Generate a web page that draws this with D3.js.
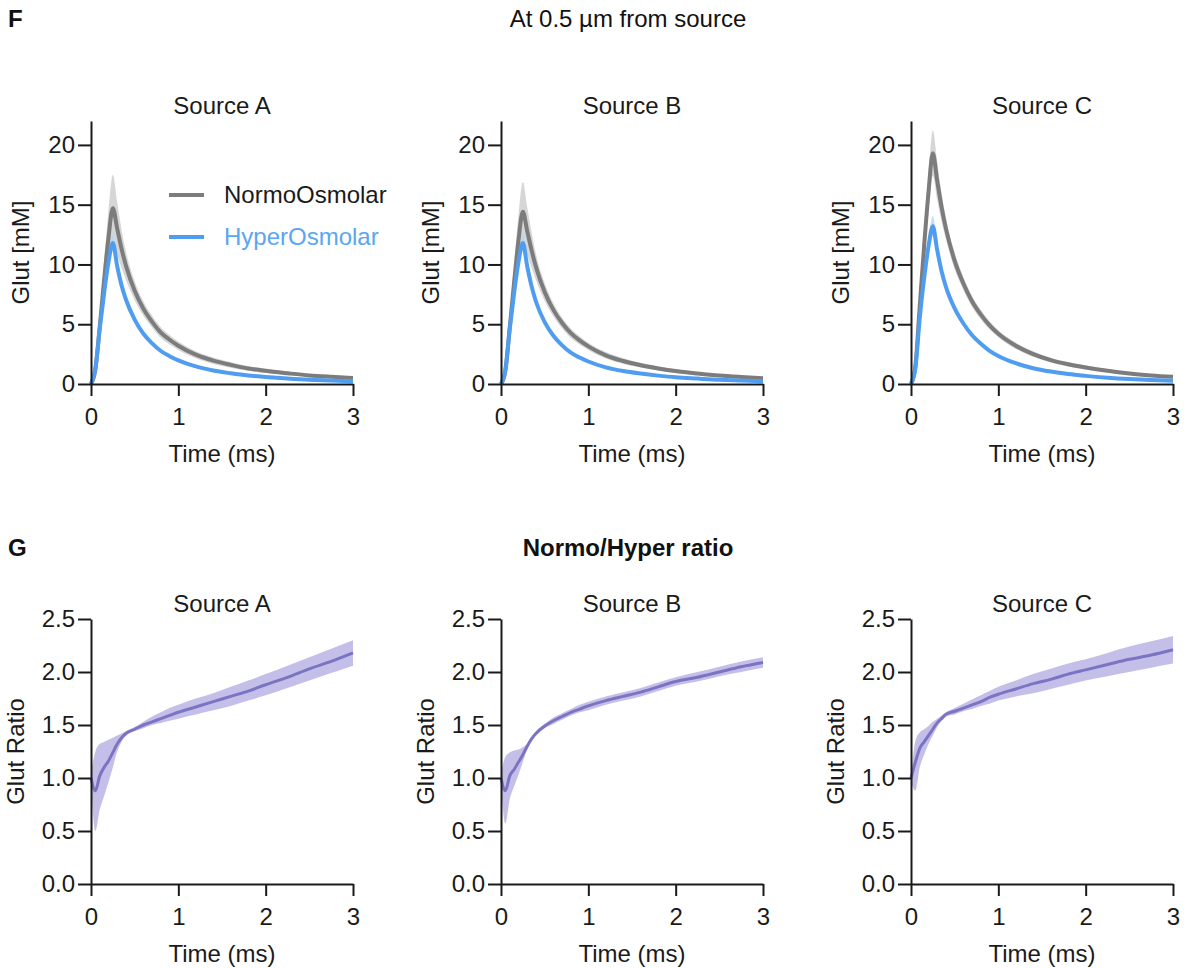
<!DOCTYPE html>
<html>
<head>
<meta charset="utf-8">
<script src="https://cdn.jsdelivr.net/npm/d3@7"></script>
<style>
  html, body { margin: 0; padding: 0; background: #fff; }
  svg { display: block; font-family: "Liberation Sans", Arial, Helvetica, sans-serif; }
  .axis path, .axis line { stroke: #1a1a1a; stroke-width: 2px; }
  .axis text { fill: #1a1a1a; font-size: 24px; }
</style>
</head>
<body>
<script>
// ---- data ----------------------------------------------------------------
const sources = ["Source A", "Source B", "Source C"];
const timeMs = [0, 0.05, 0.1, 0.15, 0.2, 0.25, 0.3, 0.35, 0.4, 0.5, 0.6, 0.7, 0.8, 0.9,
                1.0, 1.2, 1.4, 1.6, 1.8, 2.0, 2.25, 2.5, 2.75, 3.0];
const xTicks = [0, 1, 2, 3];
const glutTicks = [0, 5, 10, 15, 20];
const ratioTicks = [0, 0.5, 1.0, 1.5, 2.0, 2.5];
const seriesNames = ["NormoOsmolar", "HyperOsmolar"];

// Glutamate concentration (mM), mean and SD
const normoA = [0, 1.2, 4.8, 8.7, 12.2, 14.7, 13.0, 11.3, 9.9, 7.8, 6.3, 5.2, 4.3, 3.7,
                3.2, 2.45, 1.95, 1.6, 1.3, 1.1, 0.9, 0.72, 0.6, 0.5];
const hyperA = [0, 1.3, 4.6, 7.6, 10.2, 11.8, 9.85, 8.25, 7.07, 5.38, 4.2, 3.4, 2.76, 2.33,
                1.98, 1.47, 1.13, 0.9, 0.71, 0.585, 0.46, 0.355, 0.285, 0.23];
const normoSdA = [0, 0.3, 1.0, 1.7, 2.3, 2.8, 2.2, 1.6, 1.2, 0.8, 0.6, 0.5, 0.45, 0.4,
                  0.35, 0.3, 0.27, 0.24, 0.2, 0.18, 0.15, 0.12, 0.1, 0.08];
const hyperSdA = [0, 0.15, 0.3, 0.45, 0.6, 0.7, 0.5, 0.35, 0.25, 0.18, 0.14, 0.12, 0.1, 0.09,
                  0.08, 0.07, 0.06, 0.05, 0.05, 0.04, 0.04, 0.03, 0.03, 0.03];

const normoB = [0, 1.1, 4.7, 8.5, 12.0, 14.4, 12.8, 11.2, 9.8, 7.7, 6.2, 5.1, 4.25, 3.65,
                3.15, 2.4, 1.92, 1.57, 1.3, 1.08, 0.88, 0.71, 0.59, 0.49];
const hyperB = [0, 1.2, 4.6, 7.6, 10.2, 11.8, 9.85, 8.18, 6.9, 5.17, 4.03, 3.23, 2.62, 2.21,
                1.88, 1.39, 1.08, 0.87, 0.7, 0.56, 0.45, 0.35, 0.29, 0.23];
const normoSdB = [0, 0.3, 0.9, 1.5, 2.1, 2.5, 2.0, 1.5, 1.1, 0.75, 0.55, 0.45, 0.4, 0.35,
                  0.3, 0.27, 0.24, 0.2, 0.18, 0.16, 0.13, 0.11, 0.09, 0.07];
const hyperSdB = [0, 0.15, 0.3, 0.45, 0.6, 0.7, 0.5, 0.35, 0.25, 0.18, 0.14, 0.12, 0.1, 0.09,
                  0.08, 0.07, 0.06, 0.05, 0.05, 0.04, 0.04, 0.03, 0.03, 0.03];

const normoC = [0, 1.5, 6.5, 11.5, 16.0, 19.3, 17.0, 14.8, 13.0, 10.3, 8.4, 6.9, 5.8, 4.9,
                4.2, 3.2, 2.5, 2.0, 1.65, 1.38, 1.1, 0.88, 0.72, 0.6];
const hyperC = [0, 1.3, 5.5, 8.8, 11.5, 13.2, 11.2, 9.43, 8.13, 6.32, 5.06, 4.08, 3.37, 2.78,
                2.35, 1.74, 1.32, 1.04, 0.83, 0.68, 0.53, 0.415, 0.33, 0.27];
const normoSdC = [0, 0.3, 0.8, 1.2, 1.6, 1.9, 1.6, 1.2, 0.9, 0.7, 0.55, 0.45, 0.4, 0.35,
                  0.3, 0.27, 0.24, 0.2, 0.18, 0.16, 0.13, 0.11, 0.09, 0.07];
const hyperSdC = [0, 0.15, 0.35, 0.5, 0.7, 0.85, 0.6, 0.4, 0.3, 0.2, 0.15, 0.12, 0.1, 0.09,
                  0.08, 0.07, 0.06, 0.05, 0.05, 0.04, 0.04, 0.03, 0.03, 0.03];

// Normo/Hyper ratio, mean with lower and upper bounds
const ratioA   = [1.0, 0.88, 1.02, 1.1, 1.16, 1.24, 1.32, 1.38, 1.42, 1.46, 1.5, 1.53, 1.56, 1.59,
                  1.62, 1.67, 1.72, 1.77, 1.82, 1.88, 1.95, 2.03, 2.1, 2.18];
const ratioLoA = [0.95, 0.5, 0.7, 0.83, 0.96, 1.1, 1.25, 1.34, 1.4, 1.44, 1.47, 1.5, 1.52, 1.54,
                  1.56, 1.6, 1.64, 1.68, 1.73, 1.78, 1.85, 1.92, 1.99, 2.06];
const ratioHiA = [1.05, 1.25, 1.32, 1.34, 1.36, 1.38, 1.4, 1.42, 1.44, 1.48, 1.53, 1.58, 1.62, 1.66,
                  1.69, 1.75, 1.8, 1.86, 1.92, 1.98, 2.06, 2.14, 2.22, 2.3];

const ratioB   = [1.0, 0.88, 1.02, 1.08, 1.15, 1.22, 1.3, 1.37, 1.42, 1.49, 1.54, 1.58, 1.62, 1.65,
                  1.68, 1.73, 1.77, 1.81, 1.86, 1.91, 1.95, 2.0, 2.05, 2.09];
const ratioLoB = [0.95, 0.57, 0.8, 0.92, 1.03, 1.15, 1.27, 1.35, 1.4, 1.47, 1.51, 1.55, 1.59, 1.62,
                  1.64, 1.69, 1.73, 1.77, 1.82, 1.87, 1.91, 1.96, 2.0, 2.04];
const ratioHiB = [1.05, 1.2, 1.24, 1.26, 1.27, 1.29, 1.32, 1.38, 1.44, 1.51, 1.57, 1.61, 1.65, 1.69,
                  1.72, 1.77, 1.81, 1.85, 1.9, 1.95, 2.0, 2.05, 2.1, 2.14];

const ratioC   = [1.0, 1.15, 1.28, 1.34, 1.4, 1.46, 1.52, 1.56, 1.6, 1.63, 1.66, 1.69, 1.72, 1.76,
                  1.79, 1.84, 1.89, 1.93, 1.98, 2.02, 2.07, 2.12, 2.16, 2.21];
const ratioLoC = [0.97, 0.88, 1.1, 1.22, 1.32, 1.4, 1.48, 1.54, 1.58, 1.6, 1.63, 1.65, 1.68, 1.7,
                  1.73, 1.77, 1.8, 1.84, 1.88, 1.92, 1.96, 2.0, 2.04, 2.08];
const ratioHiC = [1.03, 1.35, 1.43, 1.46, 1.49, 1.53, 1.56, 1.59, 1.62, 1.66, 1.7, 1.74, 1.78, 1.82,
                  1.86, 1.92, 1.98, 2.03, 2.08, 2.12, 2.18, 2.24, 2.29, 2.34];

const glutPanels = [
  { normo: normoA, normoSd: normoSdA, hyper: hyperA, hyperSd: hyperSdA },
  { normo: normoB, normoSd: normoSdB, hyper: hyperB, hyperSd: hyperSdB },
  { normo: normoC, normoSd: normoSdC, hyper: hyperC, hyperSd: hyperSdC }
];
const ratioPanels = [
  { mean: ratioA, lo: ratioLoA, hi: ratioHiA },
  { mean: ratioB, lo: ratioLoB, hi: ratioHiB },
  { mean: ratioC, lo: ratioLoC, hi: ratioHiC }
];

// ---- style / layout ------------------------------------------------------
const W = 1186, H = 968;
const FS = 24;
const colNormo = "#7c7c7c", colNormoBand = "#cfcfcf";
const colHyper = "#4f9df0", colHyperBand = "#b5d5f7", colHyperText = "#5aa6ef";
const colRatio = "#7b74c2", colRatioBand = "#b4afe2";
const panelLeft = [91, 501, 911];
const panelWidth = 262;
const topRow = { y0: 384, y1: 121, domain: [0, 22] };
const botRow = { y0: 884, y1: 619, domain: [0, 2.5] };
const curve = d3.curveMonotoneX;

const svg = d3.select("body").append("svg")
  .attr("width", W).attr("height", H);

// headings
svg.append("text").attr("x", 8).attr("y", 27)
  .attr("font-size", FS).attr("font-weight", "bold").attr("fill", "#111").text("F");
svg.append("text").attr("x", 628).attr("y", 27).attr("text-anchor", "middle")
  .attr("font-size", FS).attr("fill", "#111").text("At 0.5 µm from source");
svg.append("text").attr("x", 8).attr("y", 556)
  .attr("font-size", FS).attr("font-weight", "bold").attr("fill", "#111").text("G");
svg.append("text").attr("x", 628).attr("y", 556).attr("text-anchor", "middle")
  .attr("font-size", FS).attr("font-weight", "bold").attr("fill", "#111").text("Normo/Hyper ratio");

function drawFrame(g, x, y, row, yTickVals, yFmt, yLabel, yLabelOffset, title) {
  const xAxis = d3.axisBottom(x).tickValues(xTicks).tickSize(12).tickSizeOuter(0)
    .tickPadding(12).tickFormat(d3.format("d"));
  const yAxis = d3.axisLeft(y).tickValues(yTickVals).tickSize(13).tickSizeOuter(0)
    .tickPadding(3).tickFormat(yFmt);
  g.append("g").attr("class", "axis").attr("transform", `translate(0,${row.y0})`).call(xAxis);
  g.append("g").attr("class", "axis").attr("transform", `translate(${x.range()[0]},0)`).call(yAxis);
  const xMid = (x.range()[0] + x.range()[1]) / 2;
  g.append("text").attr("x", xMid).attr("y", row.y0 + 78).attr("text-anchor", "middle")
    .attr("font-size", FS).attr("fill", "#1a1a1a").text("Time (ms)");
  g.append("text")
    .attr("transform", `translate(${x.range()[0] - yLabelOffset},${(row.y0 + row.y1) / 2}) rotate(-90)`)
    .attr("text-anchor", "middle").attr("font-size", FS).attr("fill", "#1a1a1a").text(yLabel);
  g.append("text").attr("x", xMid).attr("y", title.y).attr("text-anchor", "middle")
    .attr("font-size", FS).attr("fill", "#1a1a1a").text(title.text);
}

// ---- row F: glutamate transients ----------------------------------------
glutPanels.forEach((p, i) => {
  const g = svg.append("g");
  const x = d3.scaleLinear().domain([0, 3]).range([panelLeft[i], panelLeft[i] + panelWidth]);
  const y = d3.scaleLinear().domain(topRow.domain).range([topRow.y0, topRow.y1]);
  const idx = d3.range(timeMs.length);

  const band = (m, s) => d3.area().curve(curve).x(k => x(timeMs[k]))
    .y0(k => y(Math.max(0, m[k] - s[k]))).y1(k => y(m[k] + s[k]));
  const line = m => d3.line().curve(curve).x(k => x(timeMs[k])).y(k => y(m[k]));

  g.append("path").datum(idx).attr("d", band(p.normo, p.normoSd))
    .attr("fill", colNormoBand).attr("opacity", 0.85);
  g.append("path").datum(idx).attr("d", band(p.hyper, p.hyperSd))
    .attr("fill", colHyperBand).attr("opacity", 0.8);
  g.append("path").datum(idx).attr("d", line(p.normo))
    .attr("fill", "none").attr("stroke", colNormo).attr("stroke-width", 4)
    .attr("stroke-linejoin", "round");
  g.append("path").datum(idx).attr("d", line(p.hyper))
    .attr("fill", "none").attr("stroke", colHyper).attr("stroke-width", 4)
    .attr("stroke-linejoin", "round");

  drawFrame(g, x, y, topRow, glutTicks, d3.format("d"), "Glut [mM]", 62,
            { text: sources[i], y: 114 });

  if (i === 0) {
    const leg = g.append("g");
    [[colNormo, "#1a1a1a", 195], [colHyper, colHyperText, 237]].forEach((c, j) => {
      leg.append("line").attr("x1", 169).attr("x2", 204).attr("y1", c[2]).attr("y2", c[2])
        .attr("stroke", c[0]).attr("stroke-width", 4);
      leg.append("text").attr("x", 224).attr("y", c[2]).attr("dy", "0.35em")
        .attr("font-size", FS).attr("fill", c[1]).text(seriesNames[j]);
    });
  }
});

// ---- row G: Normo/Hyper ratio -------------------------------------------
ratioPanels.forEach((p, i) => {
  const g = svg.append("g");
  const x = d3.scaleLinear().domain([0, 3]).range([panelLeft[i], panelLeft[i] + panelWidth]);
  const y = d3.scaleLinear().domain(botRow.domain).range([botRow.y0, botRow.y1]);
  const idx = d3.range(timeMs.length);

  g.append("path").datum(idx)
    .attr("d", d3.area().curve(curve).x(k => x(timeMs[k])).y0(k => y(p.lo[k])).y1(k => y(p.hi[k])))
    .attr("fill", colRatioBand).attr("opacity", 0.8);
  g.append("path").datum(idx)
    .attr("d", d3.line().curve(curve).x(k => x(timeMs[k])).y(k => y(p.mean[k])))
    .attr("fill", "none").attr("stroke", colRatio).attr("stroke-width", 3)
    .attr("stroke-linejoin", "round");

  drawFrame(g, x, y, botRow, ratioTicks, d3.format(".1f"), "Glut Ratio", 67,
            { text: sources[i], y: 612 });
});
</script>
</body>
</html>
